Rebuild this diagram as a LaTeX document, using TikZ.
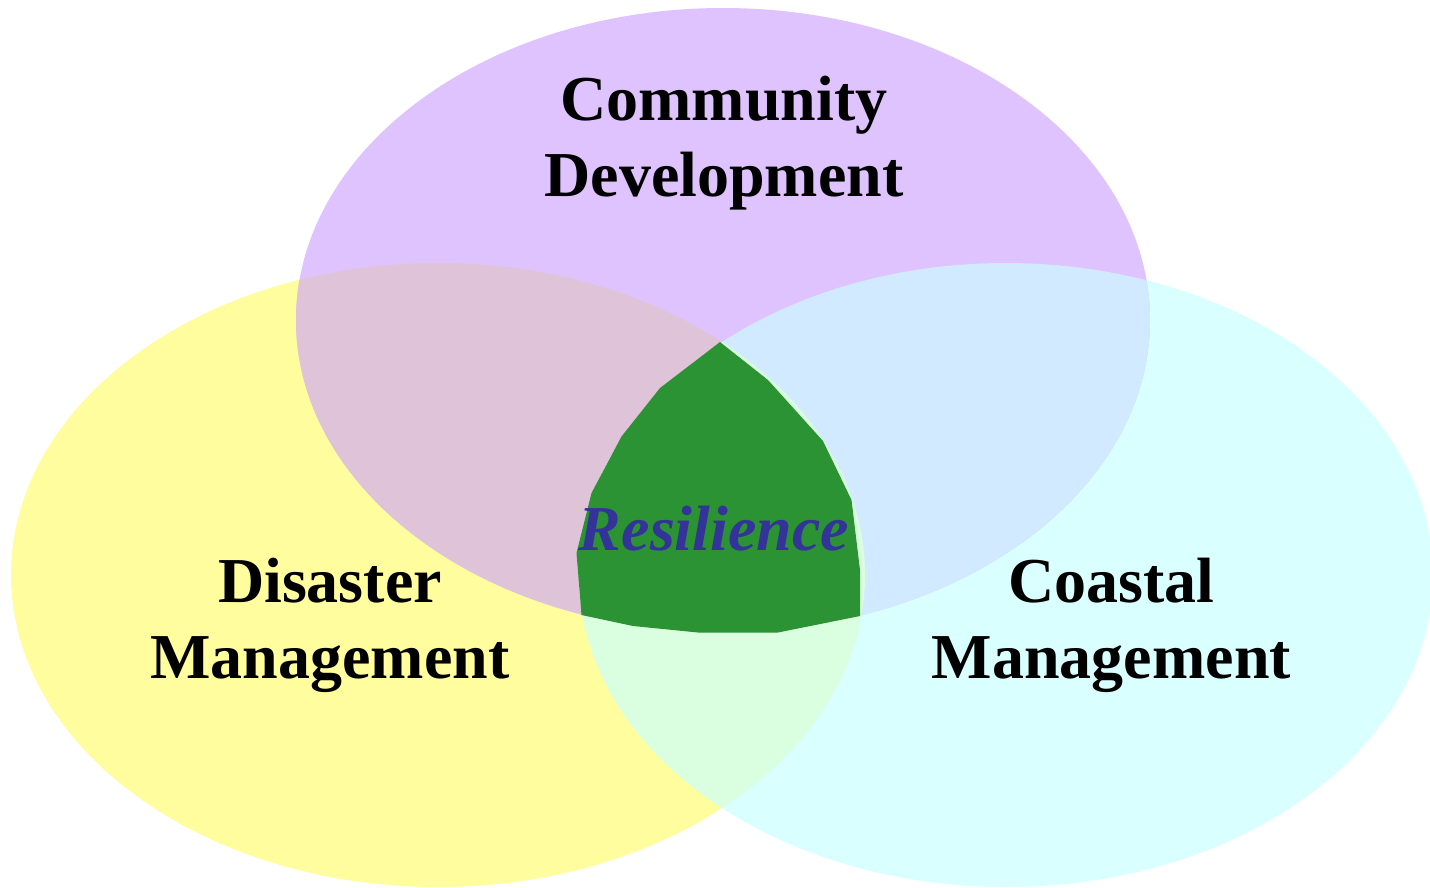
\documentclass[tikz,border=0pt]{standalone}
\usepackage{fontspec}
\setmainfont{Liberation Serif}
\definecolor{cpurple}{HTML}{DFC3FF}
\definecolor{cyellow}{HTML}{FFFD9E}
\definecolor{ccyan}{HTML}{D9FFFF}
\definecolor{cpy}{HTML}{DFC3D8}
\definecolor{cpc}{HTML}{D2EAFF}
\definecolor{cyc}{HTML}{DAFFE0}
\definecolor{cgreen}{HTML}{2B9333}
\definecolor{cblue}{HTML}{333399}
\tikzset{
  label/.style={font=\fontsize{64}{76}\selectfont\bfseries, align=center, anchor=base, inner sep=0pt, text=black},
  core/.style={font=\fontsize{64}{76}\selectfont\bfseries\itshape, anchor=base, inner sep=0pt, text=cblue}
}
\begin{document}
\begin{tikzpicture}[x=1pt,y=-1pt]
\useasboundingbox (0,0) rectangle (1430,887);
\clip (0,0) rectangle (1430,887);
\def\yel{(438,575) ellipse [x radius=427, y radius=312]}
\def\cya{(1006,575) ellipse [x radius=427, y radius=312]}
\def\pur{(723,320) ellipse [x radius=427, y radius=312]}
\fill[cyellow] \yel;
\fill[ccyan] \cya;
\fill[cpurple] \pur;
\begin{scope}\clip \yel; \fill[cpy] \pur;\end{scope}
\begin{scope}\clip \cya; \fill[cpc] \pur;\end{scope}
\begin{scope}\clip \yel; \fill[cyc] \cya;\end{scope}
\fill[cgreen] (720,342) -- (768,380) -- (823,441) -- (851.5,500) -- (860,570) -- (860,616)
  -- (778,632.5) -- (698,632.5) -- (633,626) -- (581.5,615) -- (576.5,553) -- (591.5,493)
  -- (621.5,436.5) -- (660,388) -- cycle;
\node[label] (cd) at (724,196.7) {Community\\Development};
\node[label] (dm) at (330,678) {Disaster\\Management};
\node[label] (cm) at (1111.5,678) {Coastal\\Management};
\node[core] (res) at (714,550) {Resilience};
\end{tikzpicture}
\end{document}
